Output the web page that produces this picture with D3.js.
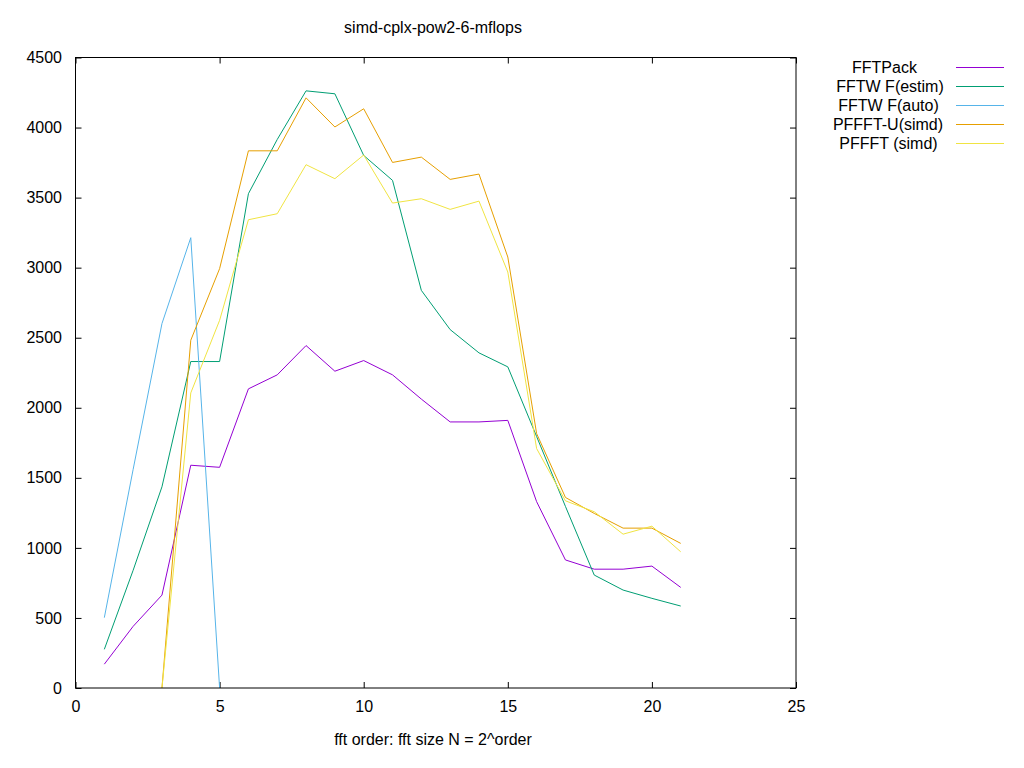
<!DOCTYPE html>
<html><head><meta charset="utf-8">
<script src="https://cdn.jsdelivr.net/npm/d3@7"></script>
<style>body{margin:0;background:#fff}svg text{font-family:"Liberation Sans",Arial,sans-serif;font-size:16px;fill:#000}</style>
</head><body><svg id="c" width="1024" height="768"></svg>
<script>
const seriesNames = ["FFTPack","FFTW F(estim)","FFTW F(auto)","PFFFT-U(simd)","PFFFT (simd)"];
const colors = ["#9400d3","#009e73","#56b4e9","#e69f00","#f0e442"];
const orders = [1,2,3,4,5,6,7,8,9,10,11,12,13,14,15,16,17,18,19,20,21];
const fftpack = [170,440,663,1590,1575,2135,2235,2444,2261,2337,2235,2062,1899,1899,1910,1330,914,848,848,870,718];
const fftwEstim = [276,840,1436,2330,2330,3528,3915,4262,4241,3801,3623,2838,2558,2392,2292,1795,1296,806,699,640,585];
const fftwAutoOrders = [1,2,3,4,5];
const fftwAuto = [502,1560,2601,3214,0];
const pffftOrders = [3,4,5,6,7,8,9,10,11,12,13,14,15,16,17,18,19,20,21];
const pffftU = [0,2482,2993,3834,3834,4212,4004,4134,3751,3789,3630,3668,3076,1816,1360,1246,1141,1141,1032];
const pffft = [0,2106,2624,3342,3385,3735,3635,3804,3461,3492,3416,3475,2969,1709,1336,1258,1098,1155,972];
const xTicks = [0,5,10,15,20,25];
const yTicks = [0,500,1000,1500,2000,2500,3000,3500,4000,4500];

const svg = d3.select("#c");
const L=75.5,R=796,T=57.5,B=688;
const x = d3.scaleLinear().domain([0,25]).range([L,R]);
const y = d3.scaleLinear().domain([0,4500]).range([B,T]);

const series = [
  {name:seriesNames[0], xs:orders, ys:fftpack},
  {name:seriesNames[1], xs:orders, ys:fftwEstim},
  {name:seriesNames[2], xs:fftwAutoOrders, ys:fftwAuto},
  {name:seriesNames[3], xs:pffftOrders, ys:pffftU},
  {name:seriesNames[4], xs:pffftOrders, ys:pffft}
];

// axes
const gx = svg.append("g").attr("transform",`translate(0,${B})`)
  .call(d3.axisBottom(x).tickValues(xTicks).tickSize(-6).tickPadding(13).tickFormat(d3.format("d")));
const gxTop = svg.append("g").attr("transform",`translate(0,${T})`)
  .call(d3.axisTop(x).tickValues(xTicks).tickSize(-6).tickFormat(""));
const gy = svg.append("g").attr("transform",`translate(${L},0)`)
  .call(d3.axisLeft(y).tickValues(yTicks).tickSize(-6).tickPadding(13.5).tickFormat(d3.format("d")));
const gyR = svg.append("g").attr("transform",`translate(${R},0)`)
  .call(d3.axisRight(y).tickValues(yTicks).tickSize(-6).tickFormat(""));
[gx,gxTop,gy,gyR].forEach(g=>{
  g.select(".domain").remove();
  g.selectAll(".tick line").attr("stroke","#000");
  g.selectAll("text").attr("font-family","Liberation Sans, Arial, sans-serif").attr("font-size",16).attr("fill","#000");
});

const plot = svg.append("g");
plot.append("clipPath").attr("id","clip").append("rect").attr("x",L).attr("y",T).attr("width",R-L).attr("height",B-T);
const line = d3.line().x(d=>x(d[0])).y(d=>y(d[1]));
series.forEach((s,i)=>{
  plot.append("path").attr("clip-path","url(#clip)")
    .attr("d",line(s.xs.map((v,k)=>[v,s.ys[k]])))
    .attr("fill","none").attr("stroke",colors[i]).attr("stroke-width",1);
});

svg.append("rect").attr("x",L).attr("y",T).attr("width",R-L).attr("height",B-T)
  .attr("fill","none").attr("stroke","#000").attr("stroke-width",1);

// title & labels
svg.append("text").attr("x",433).attr("y",33).attr("text-anchor","middle").text("simd-cplx-pow2-6-mflops");
svg.append("text").attr("x",433).attr("y",745).attr("text-anchor","middle").text("fft order: fft size N = 2^order");

// legend
const lg = svg.append("g");
const legendCx = [884.5,890,888.5,888,888.5];
series.forEach((s,i)=>{
  const yy = 67 + i*19;
  lg.append("text").attr("x",legendCx[i]).attr("y",yy+5.5).attr("text-anchor","middle").text(s.name);
  lg.append("line").attr("x1",956).attr("x2",1004).attr("y1",yy+0.5).attr("y2",yy+0.5)
    .attr("stroke",colors[i]).attr("stroke-width",1);
});
</script></body></html>
